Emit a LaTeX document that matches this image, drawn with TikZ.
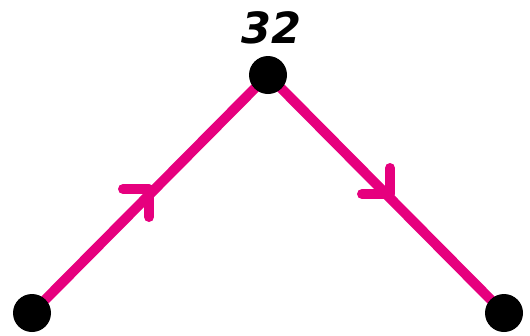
\documentclass[tikz,border=0pt]{standalone}
\usepackage{fontspec}
\usetikzlibrary{calc}
\newfontfamily\labelfont{DejaVu Sans}
\definecolor{edgepink}{RGB}{230,0,126}
\begin{document}
\begin{tikzpicture}[x=1pt,y=-1pt,
  dot/.style={circle,fill=black,inner sep=0pt,minimum size=38pt},
  edge/.style={draw=edgepink,line width=10pt},
  chev/.style={draw=edgepink,line width=10pt,line cap=round,line join=round},
  lbl/.style={font=\labelfont\fontsize{43}{43}\selectfont\bfseries\itshape,inner sep=0pt}]
\useasboundingbox (0,0) rectangle (530,335);
\coordinate (pa) at (32,313);
\coordinate (pb) at (268,75);
\coordinate (pc) at (504,313);
\draw[edge] (pa) -- (pb);
\draw[edge] (pb) -- (pc);
\coordinate (t1) at (149,189);
\draw[chev] ($(t1)+(-26,0)$) -- (t1) -- ($(t1)+(0,28)$);
\coordinate (t2) at (390,194);
\draw[chev] ($(t2)+(0,-26)$) -- (t2) -- ($(t2)+(-28,0)$);
\node[dot] (a) at (pa) {};
\node[dot] (b) at (pb) {};
\node[dot] (c) at (pc) {};
\node[lbl] (l) at (271,28) {32};
\end{tikzpicture}
\end{document}
